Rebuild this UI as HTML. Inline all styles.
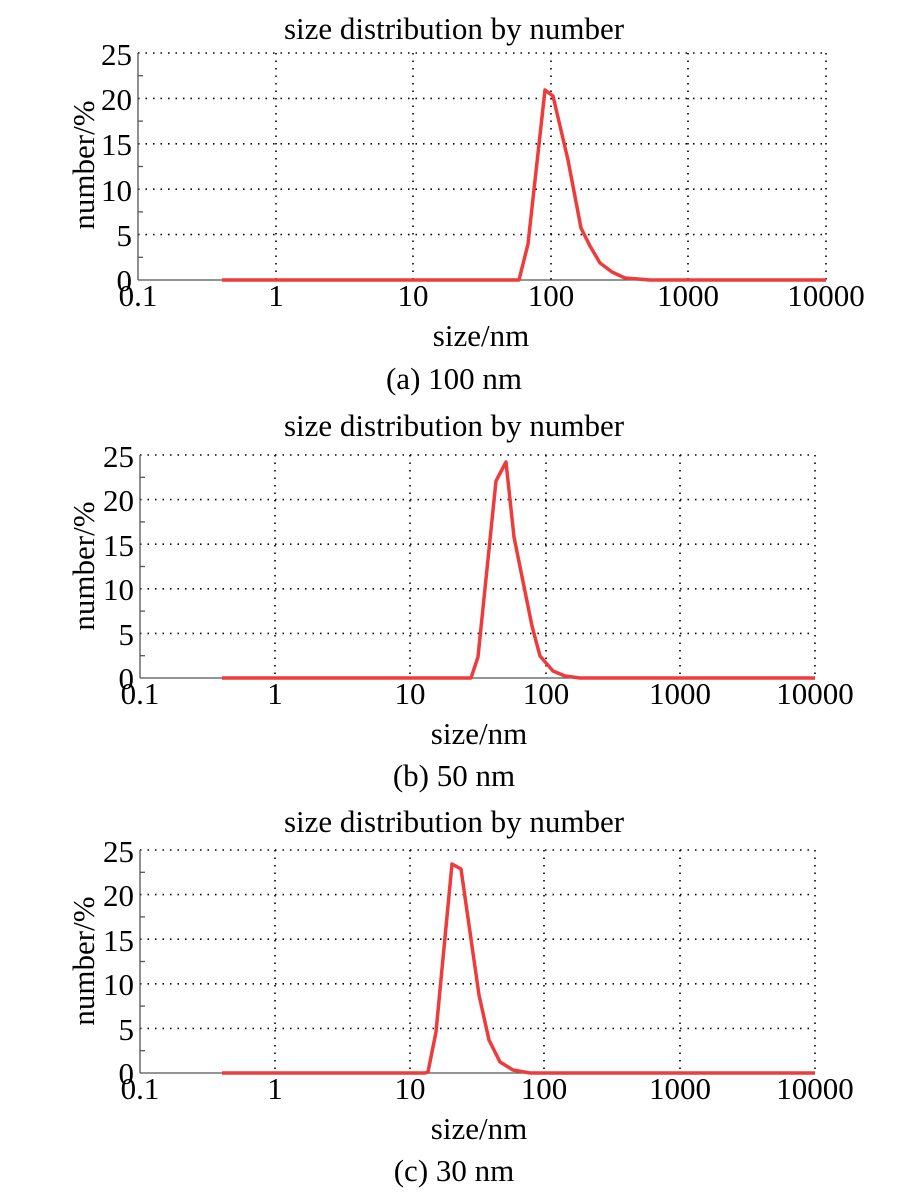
<!DOCTYPE html>
<html><head><meta charset="utf-8"><style>
body{margin:0;background:#fff}
svg text{font-family:"Liberation Serif",serif;fill:#000}
</style></head><body>
<svg width="919" height="1194" viewBox="0 0 919 1194" xmlns="http://www.w3.org/2000/svg">

<!-- Panel A -->
<g>
<text x="454" y="39" font-size="31" text-anchor="middle">size distribution by number</text>
<g stroke="#000" stroke-width="1.6" stroke-dasharray="1.5 6" fill="none">
<line x1="138" y1="53" x2="826" y2="53"/><line x1="138" y1="98.4" x2="826" y2="98.4"/><line x1="138" y1="143.8" x2="826" y2="143.8"/><line x1="138" y1="189.2" x2="826" y2="189.2"/><line x1="138" y1="234.6" x2="826" y2="234.6"/>
<line x1="276" y1="53" x2="276" y2="280"/><line x1="413" y1="53" x2="413" y2="280"/><line x1="551" y1="53" x2="551" y2="280"/><line x1="688" y1="53" x2="688" y2="280"/><line x1="826" y1="53" x2="826" y2="280"/>
</g>
<g stroke="#555" stroke-width="1.3">
<line x1="138" y1="53" x2="138" y2="280"/><line x1="138" y1="280" x2="826" y2="280"/>
<line x1="138" y1="75.7" x2="143" y2="75.7"/><line x1="138" y1="121.1" x2="143" y2="121.1"/><line x1="138" y1="166.5" x2="143" y2="166.5"/><line x1="138" y1="211.9" x2="143" y2="211.9"/><line x1="138" y1="257.3" x2="143" y2="257.3"/>
</g>
<polyline fill="none" stroke="#ee3b3b" stroke-width="3.5" stroke-linejoin="round" points="222,280 519,280 528,244 545,90 553,96 568,160 581,228 590,246 600,263 612,272 625,278 650,280 826,280"/>
<g font-size="31">
<text x="132" y="65" text-anchor="end">25</text><text x="132" y="110" text-anchor="end">20</text><text x="132" y="155" text-anchor="end">15</text><text x="132" y="201" text-anchor="end">10</text><text x="132" y="246" text-anchor="end">5</text><text x="132" y="291" text-anchor="end">0</text>
<text x="138" y="306" text-anchor="middle">0.1</text><text x="276" y="306" text-anchor="middle">1</text><text x="413" y="306" text-anchor="middle">10</text><text x="551" y="306" text-anchor="middle">100</text><text x="688" y="306" text-anchor="middle">1000</text><text x="826" y="306" text-anchor="middle">10000</text>
<text x="481" y="346" text-anchor="middle">size/nm</text>
<text x="454" y="389" text-anchor="middle">(a) 100 nm</text>
<text transform="translate(94,165) rotate(-90)" text-anchor="middle">number/%</text>
</g>
</g>

<!-- Panel B -->
<g>
<text x="454" y="436" font-size="31" text-anchor="middle">size distribution by number</text>
<g stroke="#000" stroke-width="1.6" stroke-dasharray="1.5 6" fill="none">
<line x1="140" y1="455" x2="815" y2="455"/><line x1="140" y1="499.6" x2="815" y2="499.6"/><line x1="140" y1="544.2" x2="815" y2="544.2"/><line x1="140" y1="588.8" x2="815" y2="588.8"/><line x1="140" y1="633.4" x2="815" y2="633.4"/>
<line x1="275" y1="455" x2="275" y2="678"/><line x1="410" y1="455" x2="410" y2="678"/><line x1="546" y1="455" x2="546" y2="678"/><line x1="680" y1="455" x2="680" y2="678"/><line x1="815" y1="455" x2="815" y2="678"/>
</g>
<g stroke="#555" stroke-width="1.3">
<line x1="140" y1="455" x2="140" y2="678"/><line x1="140" y1="678" x2="815" y2="678"/>
<line x1="140" y1="477.3" x2="145" y2="477.3"/><line x1="140" y1="521.9" x2="145" y2="521.9"/><line x1="140" y1="566.5" x2="145" y2="566.5"/><line x1="140" y1="611.1" x2="145" y2="611.1"/><line x1="140" y1="655.7" x2="145" y2="655.7"/>
</g>
<polyline fill="none" stroke="#ee3b3b" stroke-width="3.5" stroke-linejoin="round" points="222,678 471,678 478,657 496,481 506,462 514,537 532,626 540,656 553,671 565,676 580,678 815,678"/>
<g font-size="31">
<text x="134" y="467" text-anchor="end">25</text><text x="134" y="511" text-anchor="end">20</text><text x="134" y="556" text-anchor="end">15</text><text x="134" y="600" text-anchor="end">10</text><text x="134" y="645" text-anchor="end">5</text><text x="134" y="689" text-anchor="end">0</text>
<text x="140" y="704" text-anchor="middle">0.1</text><text x="275" y="704" text-anchor="middle">1</text><text x="410" y="704" text-anchor="middle">10</text><text x="546" y="704" text-anchor="middle">100</text><text x="680" y="704" text-anchor="middle">1000</text><text x="815" y="704" text-anchor="middle">10000</text>
<text x="479" y="744" text-anchor="middle">size/nm</text>
<text x="454" y="786" text-anchor="middle">(b) 50 nm</text>
<text transform="translate(94,566) rotate(-90)" text-anchor="middle">number/%</text>
</g>
</g>

<!-- Panel C -->
<g>
<text x="454" y="832" font-size="31" text-anchor="middle">size distribution by number</text>
<g stroke="#000" stroke-width="1.6" stroke-dasharray="1.5 6" fill="none">
<line x1="140" y1="850" x2="815" y2="850"/><line x1="140" y1="894.6" x2="815" y2="894.6"/><line x1="140" y1="939.2" x2="815" y2="939.2"/><line x1="140" y1="983.8" x2="815" y2="983.8"/><line x1="140" y1="1028.4" x2="815" y2="1028.4"/>
<line x1="275" y1="850" x2="275" y2="1073"/><line x1="410" y1="850" x2="410" y2="1073"/><line x1="544" y1="850" x2="544" y2="1073"/><line x1="680" y1="850" x2="680" y2="1073"/><line x1="815" y1="850" x2="815" y2="1073"/>
</g>
<g stroke="#555" stroke-width="1.3">
<line x1="140" y1="850" x2="140" y2="1073"/><line x1="140" y1="1073" x2="815" y2="1073"/>
<line x1="140" y1="872.3" x2="145" y2="872.3"/><line x1="140" y1="916.9" x2="145" y2="916.9"/><line x1="140" y1="961.5" x2="145" y2="961.5"/><line x1="140" y1="1006.1" x2="145" y2="1006.1"/><line x1="140" y1="1050.7" x2="145" y2="1050.7"/>
</g>
<polyline fill="none" stroke="#ee3b3b" stroke-width="3.5" stroke-linejoin="round" points="222,1073 425,1073 428,1072 436,1032 452,864 461,869 479,995 489,1040 500,1062 513,1070 530,1073 815,1073"/>
<g font-size="31">
<text x="134" y="862" text-anchor="end">25</text><text x="134" y="906" text-anchor="end">20</text><text x="134" y="951" text-anchor="end">15</text><text x="134" y="995" text-anchor="end">10</text><text x="134" y="1040" text-anchor="end">5</text><text x="134" y="1084" text-anchor="end">0</text>
<text x="140" y="1099" text-anchor="middle">0.1</text><text x="275" y="1099" text-anchor="middle">1</text><text x="410" y="1099" text-anchor="middle">10</text><text x="544" y="1099" text-anchor="middle">100</text><text x="680" y="1099" text-anchor="middle">1000</text><text x="815" y="1099" text-anchor="middle">10000</text>
<text x="479" y="1139" text-anchor="middle">size/nm</text>
<text x="454" y="1181" text-anchor="middle">(c) 30 nm</text>
<text transform="translate(94,961) rotate(-90)" text-anchor="middle">number/%</text>
</g>
</g>
</svg>
</body></html>
